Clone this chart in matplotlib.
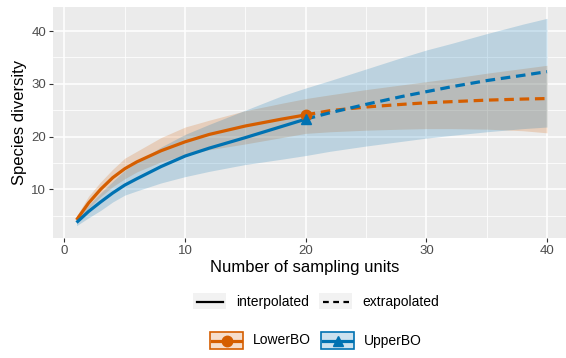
import matplotlib
matplotlib.use("Agg")
import matplotlib.pyplot as plt
from matplotlib.patches import Rectangle
from matplotlib.lines import Line2D
import numpy as np

plt.rcParams['font.family'] = ['Liberation Sans', 'DejaVu Sans']

# interpolated part (sampling units 1..20)
x_int = [1, 2, 3, 4, 5, 6, 8, 10, 12, 15, 18, 20]
lower_int = [4.2, 7.4, 10.0, 12.2, 13.9, 15.2, 17.3, 19.0, 20.4, 22.0, 23.3, 24.1]
lower_int_lo = [3.6, 6.4, 8.6, 10.5, 12.0, 13.3, 15.2, 16.5, 17.5, 18.6, 19.8, 20.6]
lower_int_hi = [4.9, 8.7, 11.4, 13.8, 15.9, 17.2, 19.8, 21.8, 23.1, 24.9, 26.3, 27.2]
upper_int = [3.7, 5.8, 7.6, 9.3, 10.8, 12.0, 14.3, 16.3, 17.8, 19.8, 21.9, 23.3]
upper_int_lo = [3.1, 4.6, 6.0, 7.6, 8.9, 9.7, 11.2, 12.4, 13.4, 14.7, 15.7, 16.4]
upper_int_hi = [4.3, 7.0, 9.3, 11.5, 13.6, 15.1, 18.0, 20.4, 22.3, 25.0, 27.7, 29.2]

# extrapolated part (20..40)
x_ext = [20, 22, 25, 28, 30, 32, 35, 38, 40]
lower_ext = [24.1, 24.9, 25.6, 26.1, 26.4, 26.6, 26.9, 27.1, 27.2]
lower_ext_lo = [20.6, 20.9, 21.2, 21.4, 21.5, 21.5, 21.4, 21.1, 20.7]
lower_ext_hi = [27.2, 27.9, 28.9, 29.8, 30.4, 31.0, 32.0, 32.9, 33.5]
upper_ext = [23.3, 24.5, 26.1, 27.6, 28.5, 29.4, 30.6, 31.6, 32.3]
upper_ext_lo = [16.4, 17.2, 18.2, 19.1, 19.7, 20.2, 20.9, 21.5, 21.8]
upper_ext_hi = [29.2, 30.6, 32.8, 35.0, 36.4, 37.6, 39.5, 41.3, 42.4]

sites = ['LowerBO', 'UpperBO']
colors = ['#D55E00', '#0072B2']
markers = ['o', '^']

W, H = 566, 358
fig = plt.figure(figsize=(W / 100, H / 100), dpi=100)
ax = fig.add_axes([53 / W, 1 - 238 / H, (570.5 - 53) / W, (238 - 7) / H])
ax.set_facecolor('#EBEBEB')
for s in ax.spines.values():
    s.set_visible(False)

data = [
    (lower_int, lower_int_lo, lower_int_hi, lower_ext, lower_ext_lo, lower_ext_hi),
    (upper_int, upper_int_lo, upper_int_hi, upper_ext, upper_ext_lo, upper_ext_hi),
]

for (yi, yil, yih, ye, yel, yeh), c in zip(data, colors):
    ax.fill_between(np.r_[x_int, x_ext[1:]], np.r_[yil, yel[1:]], np.r_[yih, yeh[1:]],
                    color=c, alpha=0.2, linewidth=0, zorder=2)

dash = (0, (3.0, 1.8))
for (yi, yil, yih, ye, yel, yeh), c, m in zip(data, colors, markers):
    ax.plot(x_int, yi, color=c, lw=2.3, solid_capstyle='butt', zorder=3)
    ax.plot(x_ext, ye, color=c, lw=2.3, ls=dash, zorder=3)
    ax.plot([x_int[-1]], [yi[-1]], marker=m, color=c, ms=7.5, zorder=4)

ax.set_xlim(-0.95, 41.95)
ax.set_ylim(0.77, 44.55)
ax.set_xticks([0, 10, 20, 30, 40])
ax.set_yticks([10, 20, 30, 40])
ax.set_xticks([5, 15, 25, 35], minor=True)
ax.set_yticks([5, 15, 25, 35], minor=True)
ax.grid(which='major', color='white', lw=1.1, zorder=0)
ax.grid(which='minor', color='white', lw=0.55, zorder=0)
ax.set_axisbelow(True)
ax.tick_params(which='major', length=3, width=0.8, color='#333333',
               labelcolor='#4D4D4D', labelsize=9.5, pad=2)
ax.tick_params(which='minor', length=0)
ax.set_xlabel('Number of sampling units', fontsize=12, labelpad=3)
ax.xaxis.set_label_coords(0.487, -0.095)
ax.set_ylabel('Species diversity', fontsize=12, labelpad=3)


def fx(x):
    return x / W


def fy(y):
    return 1 - y / H


# legend 1: interpolated / extrapolated
for x0, ls, label in [(193, '-', 'interpolated'), (319, (0, (2.6, 2.0)), 'extrapolated')]:
    fig.add_artist(Rectangle((fx(x0), fy(309)), 33 / W, 16 / H, transform=fig.transFigure,
                             facecolor='#F2F2F2', edgecolor='none'))
    fig.add_artist(Line2D([fx(x0 + 4), fx(x0 + 30)], [fy(302), fy(302)], transform=fig.transFigure,
                          color='black', lw=1.6, ls=ls))
    fig.text(fx(x0 + 43), fy(302), label, ha='left', va='center', fontsize=10)

# legend 2: sites
for x0, site, c, m in zip([210, 321], sites, colors, markers):
    fig.add_artist(Rectangle((fx(x0), fy(349)), 33 / W, 17 / H, transform=fig.transFigure,
                             facecolor=c, alpha=0.2, edgecolor='none'))
    fig.add_artist(Rectangle((fx(x0), fy(349)), 33 / W, 17 / H, transform=fig.transFigure,
                             facecolor='none', edgecolor=c, lw=1.2))
    fig.add_artist(Line2D([fx(x0 + 2), fx(x0 + 31)], [fy(340.5), fy(340.5)], transform=fig.transFigure,
                          color=c, lw=2.3))
    fig.add_artist(Line2D([fx(x0 + 16.5)], [fy(340.5)], transform=fig.transFigure,
                          color=c, marker=m, ms=7.5, ls='none'))
    fig.text(fx(x0 + 43), fy(340.5), site, ha='left', va='center', fontsize=10)

plt.savefig('out.png', dpi=100)
plt.close()
